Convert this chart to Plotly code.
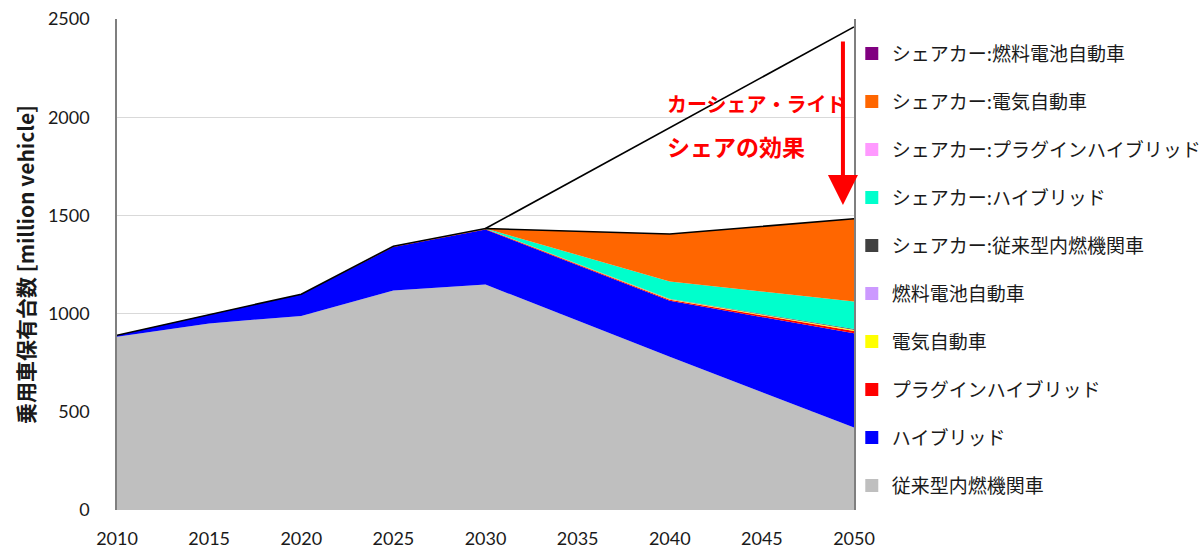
import plotly.graph_objects as go

# Passenger car fleet by powertrain [million vehicles]
years = [2010, 2015, 2020, 2025, 2030, 2040, 2050]

ice = [882, 950, 988, 1117, 1148, 780, 420]
hybrid = [8, 45, 110, 222, 280, 285, 480]
plugin_hybrid = [0, 0, 1, 3, 3, 6, 12]
electric = [0, 0, 0, 1, 1, 2, 4]
fuel_cell = [0, 0, 0, 0, 0, 1, 2]
share_ice = [0, 0, 0, 0, 0, 2, 3]
share_hybrid = [0, 0, 0, 0, 1, 88, 140]
share_plugin = [0, 0, 0, 0, 0, 0, 0]
share_electric = [0, 0, 0, 0, 0, 241, 422]
share_fuel_cell = [0, 0, 0, 0, 0, 0, 0]

# Fleet size without car-sharing / ride-sharing
no_share_years = [2030, 2040, 2050]
no_share_total = [1433, 1946, 2460]

series = [
    ("従来型内燃機関車", ice, "#BFBFBF"),
    ("ハイブリッド", hybrid, "#0000FF"),
    ("プラグインハイブリッド", plugin_hybrid, "#FF0000"),
    ("電気自動車", electric, "#FFFF00"),
    ("燃料電池自動車", fuel_cell, "#CC99FF"),
    ("シェアカー:従来型内燃機関車", share_ice, "#404040"),
    ("シェアカー:ハイブリッド", share_hybrid, "#00FFCC"),
    ("シェアカー:プラグインハイブリッド", share_plugin, "#FF99FF"),
    ("シェアカー:電気自動車", share_electric, "#FF6600"),
    ("シェアカー:燃料電池自動車", share_fuel_cell, "#800080"),
]

fig = go.Figure()

for name, vals, color in series:
    fig.add_trace(go.Scatter(
        x=years, y=vals, name=name, stackgroup="fleet",
        mode="none", fillcolor=color, showlegend=False, hoverinfo="x+y+name",
    ))

total = [sum(v[i] for _, v, _ in series) for i in range(len(years))]
fig.add_trace(go.Scatter(
    x=years, y=total, mode="lines", line=dict(color="black", width=1.6),
    showlegend=False, hoverinfo="skip",
))
fig.add_trace(go.Scatter(
    x=no_share_years, y=no_share_total, mode="lines",
    line=dict(color="black", width=1.6), showlegend=False, hoverinfo="skip",
))

# Square legend markers (top layer listed first), one group each so the rows
# can be spaced out
for name, vals, color in reversed(series):
    fig.add_trace(go.Scatter(
        x=[None], y=[None], mode="markers", name=name, legendgroup=name,
        marker=dict(symbol="square", size=13, color=color),
    ))

fig.add_annotation(
    x=2049.4, y=1553, ax=2049.4, ay=2393, xref="x", yref="y", axref="x", ayref="y",
    showarrow=True, arrowhead=2, arrowsize=1.5, arrowwidth=4, arrowcolor="#FF0000",
    text="",
)
fig.add_annotation(
    x=2039.75, y=2070, xref="x", yref="y", xanchor="left", yanchor="middle",
    text="<b>カーシェア・ライド</b>", showarrow=False,
    font=dict(family="Noto Sans CJK JP", size=20, color="#FF0000"),
)
fig.add_annotation(
    x=2039.75, y=1855, xref="x", yref="y", xanchor="left", yanchor="middle",
    text="<b>シェアの効果</b>", showarrow=False,
    font=dict(family="Noto Sans CJK JP", size=23, color="#FF0000"),
)

fig.update_layout(
    width=1202, height=549,
    margin=dict(l=117, r=348, t=19, b=39, autoexpand=False),
    plot_bgcolor="white", paper_bgcolor="white",
    font=dict(family="Noto Sans CJK JP", color="#1a1a1a"),
    legend=dict(
        x=0.997, y=0.968, xanchor="left", yanchor="top",
        traceorder="grouped", tracegroupgap=20.3,
        font=dict(family="Noto Sans CJK JP", size=19, color="#1a1a1a"),
        itemwidth=30, bgcolor="rgba(0,0,0,0)",
    ),
    xaxis=dict(
        range=[2010, 2050], tickmode="linear", tick0=2010, dtick=5,
        showgrid=False, zeroline=False, showline=False, ticks="",
        ticklabelstandoff=16,
        tickfont=dict(family="Lato", size=18, color="#1a1a1a"),
    ),
    yaxis=dict(
        range=[0, 2500], tickmode="linear", tick0=0, dtick=500,
        showgrid=True, gridcolor="#D9D9D9", gridwidth=1, zeroline=False,
        showline=True, linecolor="#7F7F7F", linewidth=1.5, mirror=True, ticks="",
        ticklabelstandoff=22,
        tickfont=dict(family="Lato", size=18, color="#1a1a1a"),
        title=dict(
            text="<b>乗用車保有台数 [million vehicle]</b>", standoff=8,
            font=dict(family="Noto Sans CJK JP", size=21, color="#1a1a1a"),
        ),
    ),
)

fig.write_html("out.html")
